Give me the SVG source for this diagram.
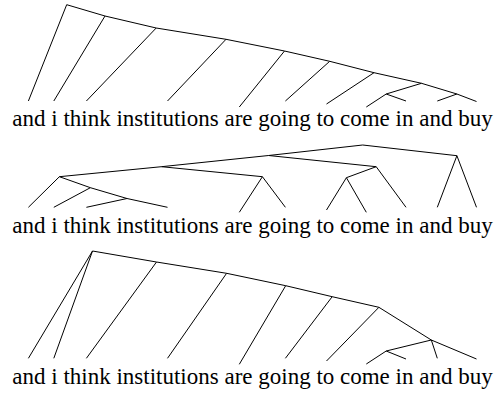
<svg xmlns="http://www.w3.org/2000/svg" width="498" height="397" viewBox="0 0 498 397">
<style>
.e line{stroke:#000;stroke-width:1;stroke-linecap:butt}
.s{font-family:"Liberation Serif","Times New Roman",serif;font-size:23px;fill:#000}
</style>
<rect width="498" height="397" fill="#fff"/>
<g id="connectors" class="e">
<g id="tree1">
<line x1="66.7" y1="4.7" x2="28.4" y2="101"/>
<line x1="66.7" y1="4.7" x2="105" y2="16"/>
<line x1="105" y1="16" x2="53.8" y2="101"/>
<line x1="105" y1="16" x2="156.2" y2="28"/>
<line x1="156.2" y1="28" x2="86.4" y2="101"/>
<line x1="156.2" y1="28" x2="226" y2="39.3"/>
<line x1="226" y1="39.3" x2="167.5" y2="101"/>
<line x1="226" y1="39.3" x2="284.5" y2="51"/>
<line x1="284.5" y1="51" x2="239.3" y2="107"/>
<line x1="284.5" y1="51" x2="329.7" y2="61.3"/>
<line x1="329.7" y1="61.3" x2="285.4" y2="101"/>
<line x1="329.7" y1="61.3" x2="374" y2="72.7"/>
<line x1="374" y1="72.7" x2="326.5" y2="104"/>
<line x1="374" y1="72.7" x2="421.5" y2="83.3"/>
<line x1="421.5" y1="83.3" x2="386.2" y2="94"/>
<line x1="421.5" y1="83.3" x2="456.9" y2="94"/>
<line x1="386.2" y1="94" x2="366.3" y2="107"/>
<line x1="386.2" y1="94" x2="406" y2="101"/>
<line x1="456.9" y1="94" x2="437.3" y2="101"/>
<line x1="456.9" y1="94" x2="476.5" y2="101.5"/>
</g>
<g id="tree2">
<line x1="362.7" y1="145" x2="268.6" y2="155.5"/>
<line x1="362.7" y1="145" x2="456.9" y2="155.7"/>
<line x1="268.6" y1="155.5" x2="161.5" y2="166.7"/>
<line x1="268.6" y1="155.5" x2="376.2" y2="166.7"/>
<line x1="161.5" y1="166.7" x2="59.4" y2="176.7"/>
<line x1="161.5" y1="166.7" x2="262.4" y2="176.7"/>
<line x1="59.4" y1="176.7" x2="28.4" y2="207.3"/>
<line x1="59.4" y1="176.7" x2="90.4" y2="187.7"/>
<line x1="90.4" y1="187.7" x2="53.8" y2="207.3"/>
<line x1="90.4" y1="187.7" x2="127" y2="198.5"/>
<line x1="127" y1="198.5" x2="86.4" y2="207.3"/>
<line x1="127" y1="198.5" x2="167.5" y2="207.3"/>
<line x1="262.4" y1="176.7" x2="239.3" y2="212.3"/>
<line x1="262.4" y1="176.7" x2="285.4" y2="207.3"/>
<line x1="376.2" y1="166.7" x2="346.4" y2="177.7"/>
<line x1="376.2" y1="166.7" x2="406" y2="207.3"/>
<line x1="346.4" y1="177.7" x2="326.5" y2="210"/>
<line x1="346.4" y1="177.7" x2="366.3" y2="212.3"/>
<line x1="456.9" y1="155.7" x2="437.3" y2="207.3"/>
<line x1="456.9" y1="155.7" x2="476.5" y2="207.3"/>
</g>
<g id="tree3">
<line x1="92.5" y1="251" x2="28.4" y2="358.3"/>
<line x1="92.5" y1="251" x2="53.8" y2="358.3"/>
<line x1="92.5" y1="251" x2="156.5" y2="262"/>
<line x1="156.5" y1="262" x2="86.4" y2="358.3"/>
<line x1="156.5" y1="262" x2="226.6" y2="273.3"/>
<line x1="226.6" y1="273.3" x2="167.5" y2="358.3"/>
<line x1="226.6" y1="273.3" x2="285.7" y2="285.7"/>
<line x1="285.7" y1="285.7" x2="239.3" y2="364.3"/>
<line x1="285.7" y1="285.7" x2="332.2" y2="296.7"/>
<line x1="332.2" y1="296.7" x2="285.4" y2="358.3"/>
<line x1="332.2" y1="296.7" x2="378.9" y2="307.3"/>
<line x1="378.9" y1="307.3" x2="326.5" y2="361"/>
<line x1="378.9" y1="307.3" x2="431.3" y2="340"/>
<line x1="431.3" y1="340" x2="386.2" y2="351"/>
<line x1="431.3" y1="340" x2="437.3" y2="358.3"/>
<line x1="431.3" y1="340" x2="476.5" y2="359"/>
<line x1="386.2" y1="351" x2="366.3" y2="364"/>
<line x1="386.2" y1="351" x2="406" y2="359"/>
</g>
</g>
<g id="sentence1"><text class="s" x="12.3" y="126.3">and i think institutions are going to come in and buy</text></g>
<g id="sentence2"><text class="s" x="12.3" y="233">and i think institutions are going to come in and buy</text></g>
<g id="sentence3"><text class="s" x="12.3" y="384">and i think institutions are going to come in and buy</text></g>
</svg>
